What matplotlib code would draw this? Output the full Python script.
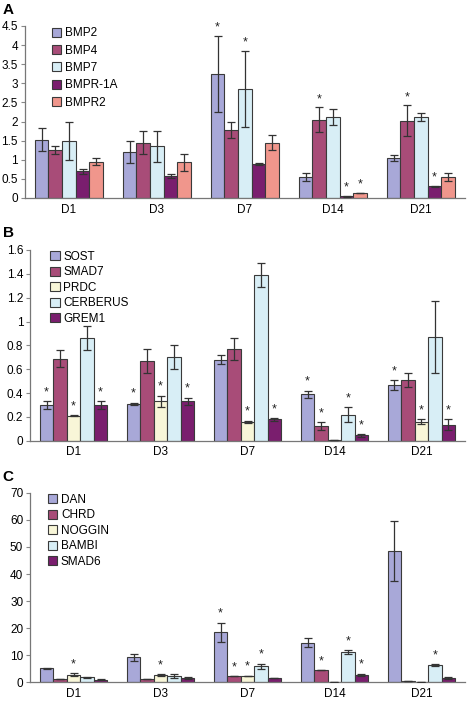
import numpy as np
import matplotlib as mpl
mpl.use('Agg')
from matplotlib import pyplot as plt

plt.rcParams['font.family'] = ['Liberation Sans', 'DejaVu Sans']

days = ['D1', 'D3', 'D7', 'D14', 'D21']

# panel A
genesA = ['BMP2', 'BMP4', 'BMP7', 'BMPR-1A', 'BMPR2']
valsA = [[1.52, 1.20, 3.25, 0.55, 1.05],
         [1.25, 1.45, 1.78, 2.05, 2.02],
         [1.50, 1.35, 2.85, 2.12, 2.12],
         [0.70, 0.58, 0.88, 0.04, 0.30],
         [0.95, 0.93, 1.45, 0.13, 0.55]]
errA = [[0.30, 0.28, 1.00, 0.10, 0.08],
        [0.10, 0.30, 0.20, 0.32, 0.40],
        [0.50, 0.40, 1.00, 0.20, 0.10],
        [0.07, 0.05, 0.03, 0.01, 0.01],
        [0.10, 0.22, 0.20, 0.01, 0.10]]
starA = [[0, 0, 1, 0, 0],
         [0, 0, 0, 1, 1],
         [0, 0, 1, 0, 0],
         [0, 0, 0, 1, 1],
         [0, 0, 0, 1, 0]]

# panel B
genesB = ['SOST', 'SMAD7', 'PRDC', 'CERBERUS', 'GREM1']
valsB = [[0.30, 0.31, 0.68, 0.39, 0.47],
         [0.69, 0.67, 0.77, 0.125, 0.51],
         [0.21, 0.33, 0.16, 0.01, 0.16],
         [0.86, 0.70, 1.39, 0.22, 0.87],
         [0.30, 0.33, 0.18, 0.045, 0.135]]
errB = [[0.03, 0.01, 0.04, 0.03, 0.04],
        [0.07, 0.10, 0.09, 0.03, 0.06],
        [0.005, 0.05, 0.01, 0.0, 0.02],
        [0.10, 0.10, 0.10, 0.06, 0.30],
        [0.03, 0.03, 0.01, 0.01, 0.046]]
starB = [[1, 1, 0, 1, 1],
         [0, 0, 0, 1, 0],
         [1, 1, 1, 0, 1],
         [0, 0, 0, 1, 0],
         [1, 1, 1, 1, 1]]

# panel C
genesC = ['DAN', 'CHRD', 'NOGGIN', 'BAMBI', 'SMAD6']
valsC = [[5.2, 9.3, 18.5, 14.7, 48.5],
         [1.3, 1.1, 2.2, 4.4, 0.6],
         [2.8, 2.7, 2.4, 0.3, 0.1],
         [1.8, 2.3, 5.9, 11.2, 6.3],
         [1.0, 1.6, 1.5, 2.8, 1.6]]
errC = [[0.2, 1.3, 3.6, 1.5, 11.0],
        [0.0, 0.0, 0.0, 0.0, 0.0],
        [0.5, 0.2, 0.0, 0.0, 0.0],
        [0.2, 0.6, 1.0, 0.6, 0.3],
        [0.2, 0.2, 0.0, 0.3, 0.3]]
starC = [[0, 0, 1, 0, 0],
         [0, 0, 1, 1, 0],
         [1, 1, 1, 0, 0],
         [0, 0, 1, 1, 1],
         [0, 0, 0, 1, 0]]

colorsA = ['#a8a8d8', '#a84c78', '#d8eef6', '#7a1e6e', '#f0968c']
colorsB = ['#a8a8d8', '#a84c78', '#f8f6d8', '#d8eef6', '#7a1e6e']
colorsC = ['#a8a8d8', '#a84c78', '#f8f6d8', '#d8eef6', '#7a1e6e']

fig = plt.figure(figsize=(4.71, 7.02), dpi=100)

# letter top positions in pixels from the top
panels = [
    ('A', 3, [0.053, 0.718, 0.934, 0.245], genesA, valsA, errA, starA, colorsA,
     4.5, 0.5, ['0', '0.5', '1', '1.5', '2', '2.5', '3', '3.5', '4', '4.5'], 0.06, 0.05, 0.45),
    ('B', 226, [0.064, 0.372, 0.923, 0.272], genesB, valsB, errB, starB, colorsB,
     1.6, 0.2, ['0', '0.2', '0.4', '0.6', '0.8', '1', '1.2', '1.4', '1.6'], 0.025, 0.035, 0.3),
    ('C', 470, [0.064, 0.028, 0.923, 0.27], genesC, valsC, errC, starC, colorsC,
     70, 10, ['0', '10', '20', '30', '40', '50', '60', '70'], 1.2, 0.03, 0.3),
]

w = 0.155
x = np.arange(len(days))
for letter, ltop, rect, genes, vals, errs, stars, cols, ymax, step, ylabs, pad, legx, lsp in panels:
    ax = fig.add_axes(rect)
    for i, g in enumerate(genes):
        xs = x + (i - 2) * w
        ax.bar(xs, vals[i], w, color=cols[i], edgecolor='#3a3a3a', linewidth=0.8,
               label=g, zorder=2)
        e = np.array(errs[i])
        ax.errorbar(xs, vals[i], yerr=e, fmt='none', ecolor='#333333',
                    elinewidth=0.9, capsize=3, capthick=0.9, zorder=3)
        for j in range(len(days)):
            if stars[i][j]:
                ax.text(xs[j], vals[i][j] + errs[i][j] + pad, '*', ha='center',
                        va='bottom', fontsize=9, color='#222222')
    ax.set_xlim(-0.5, len(days) - 0.5)
    ax.set_ylim(0, ymax)
    ax.set_yticks(np.arange(0, ymax + step / 2, step))
    ax.set_yticklabels(ylabs, fontsize=8.5)
    ax.set_xticks(x)
    ax.set_xticklabels(days, fontsize=8.5)
    ax.tick_params(axis='x', length=0, pad=4)
    ax.tick_params(axis='y', length=3, width=0.8, color='#888888', pad=2)
    for s in ['top', 'right']:
        ax.spines[s].set_visible(False)
    for s in ['left', 'bottom']:
        ax.spines[s].set_color('#777777')
        ax.spines[s].set_linewidth(0.9)
    ax.legend(loc='upper left', bbox_to_anchor=(legx, 1.02), frameon=False,
              fontsize=8.5, handlelength=0.8, handleheight=0.8,
              handletextpad=0.3, labelspacing=lsp, borderaxespad=0)
    fig.text(0.006, 1 - ltop / 702.0, letter, fontsize=11,
             fontweight='bold', va='top', ha='left')

fig.savefig('out.png', dpi=100)
